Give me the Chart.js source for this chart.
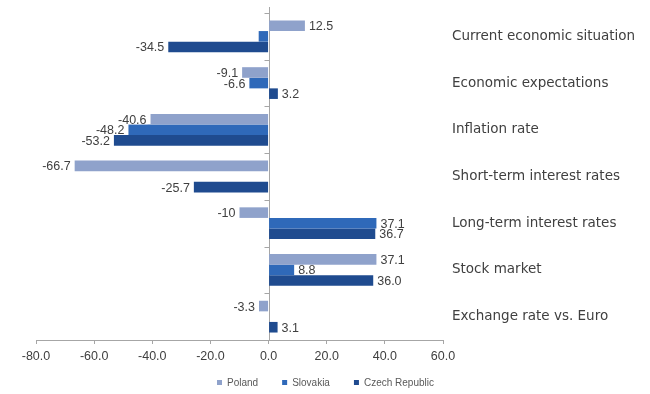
<!DOCTYPE html>
<html>
<head>
<meta charset="utf-8">
<script src="https://cdn.jsdelivr.net/npm/chart.js@4/dist/chart.umd.min.js"></script>
<style>
  html, body { margin: 0; padding: 0; background: #fff; }
  #wrap { width: 650px; height: 394px; }
</style>
</head>
<body>
<div id="wrap"><canvas id="chart" width="650" height="394"></canvas></div>
<script>
const categories = [
    "Current economic situation",
    "Economic expectations",
    "Inflation rate",
    "Short-term interest rates",
    "Long-term interest rates",
    "Stock market",
    "Exchange rate vs. Euro"
];
const poland   = [12.5, -9.1, -40.6, -66.7, -10, 37.1, -3.3];
const slovakia = [-3.4, -6.6, -48.2, null, 37.1, 8.8, null];
const czech    = [-34.5, 3.2, -53.2, -25.7, 36.7, 36.0, 3.1];
const xTicks = { min: -80, max: 60, step: 20 };

// labels that are not shown on the chart: [dataset index, category index]
const hiddenLabels = [[1, 0]];

const textColor = "#404040";
const font = "'Liberation Sans', Arial, sans-serif";

// whole negative numbers show without decimals ("-10"), the rest with one
function labelText(v) {
    return Number.isInteger(v) && v < 0 ? String(v) : v.toFixed(1);
}

const zeroLine = {
    id: "zeroLine",
    beforeDatasetsDraw(chart) {
        const { ctx, chartArea, scales } = chart;
        const x0 = Math.round(scales.x.getPixelForValue(0)) + 0.5;
        ctx.save();
        ctx.strokeStyle = "#a6a6a6";
        ctx.lineWidth = 1;
        ctx.beginPath();
        ctx.moveTo(x0, chartArea.top - 6);
        ctx.lineTo(x0, chartArea.bottom);
        for (let i = 0; i <= categories.length; i++) {
            const y = Math.round(scales.y.getPixelForValue(i - 0.5)) + 0.5;
            ctx.moveTo(x0 - 5, y);
            ctx.lineTo(x0, y);
        }
        ctx.stroke();
        ctx.restore();
    }
};

const barLabels = {
    id: "barLabels",
    afterDatasetsDraw(chart) {
        const ctx = chart.ctx;
        ctx.save();
        ctx.font = "12.5px " + font;
        ctx.textBaseline = "middle";
        chart.data.datasets.forEach((ds, di) => {
            const meta = chart.getDatasetMeta(di);
            meta.data.forEach((bar, i) => {
                const v = ds.data[i];
                if (v === null || v === undefined) return;
                if (hiddenLabels.some(h => h[0] === di && h[1] === i)) return;
                const txt = labelText(v);
                const w = ctx.measureText(txt).width;
                const tx = v >= 0 ? bar.x + 4 : bar.x - 4 - w;
                ctx.fillStyle = "#fff";
                ctx.fillRect(tx - 1, bar.y - 5, w + 2, 10);
                ctx.fillStyle = textColor;
                ctx.textAlign = "left";
                ctx.fillText(txt, tx, bar.y + 1);
            });
        });
        ctx.restore();
    }
};

// legend centred under the whole picture, like the spreadsheet one
const bottomLegend = {
    id: "bottomLegend",
    afterDraw(chart) {
        const ctx = chart.ctx;
        const box = 5, gap = 5, itemGap = 24, y = 383;
        ctx.save();
        ctx.font = "10px " + font;
        ctx.textBaseline = "middle";
        const items = chart.data.datasets.map(ds => ({
            text: ds.label, color: ds.backgroundColor, w: ctx.measureText(ds.label).width
        }));
        const total = items.reduce((s, it) => s + box + gap + it.w, 0) + itemGap * (items.length - 1);
        let x = Math.round(chart.width / 2 - total / 2);
        items.forEach(it => {
            ctx.fillStyle = it.color;
            ctx.fillRect(x, y - 3, box, box);
            x += box + gap;
            ctx.fillStyle = "#595959";
            ctx.fillText(it.text, x, y);
            x += it.w + itemGap;
        });
        ctx.restore();
    }
};

new Chart(document.getElementById("chart"), {
    type: "bar",
    data: {
        labels: categories,
        datasets: [
            { label: "Poland", data: poland, backgroundColor: "#8fa2cb" },
            { label: "Slovakia", data: slovakia, backgroundColor: "#2f69b9" },
            { label: "Czech Republic", data: czech, backgroundColor: "#1f4b8f" }
        ]
    },
    options: {
        indexAxis: "y",
        responsive: false,
        animation: false,
        categoryPercentage: 0.68,
        barPercentage: 1.0,
        layout: { padding: { left: 36, top: 13, right: 0, bottom: 25 } },
        scales: {
            x: {
                min: xTicks.min,
                max: xTicks.max,
                ticks: {
                    stepSize: xTicks.step,
                    color: textColor,
                    padding: 5,
                    font: { family: font, size: 12.5 },
                    callback: v => Number(v).toFixed(1)
                },
                grid: { drawOnChartArea: false, tickLength: 4, color: "#a6a6a6" },
                border: { color: "#a6a6a6" }
            },
            y: {
                position: "right",
                grid: { display: false },
                border: { display: false },
                ticks: {
                    color: textColor,
                    padding: 1,
                    font: { family: "'DejaVu Sans', sans-serif", size: 13.5 }
                },
                afterFit(scale) {
                    scale.width = 207;
                    scale.paddingTop = 0;
                    scale.paddingBottom = 0;
                }
            }
        },
        plugins: {
            legend: { display: false },
            tooltip: { enabled: false }
        }
    },
    plugins: [zeroLine, barLabels, bottomLegend]
});
</script>
</body>
</html>
